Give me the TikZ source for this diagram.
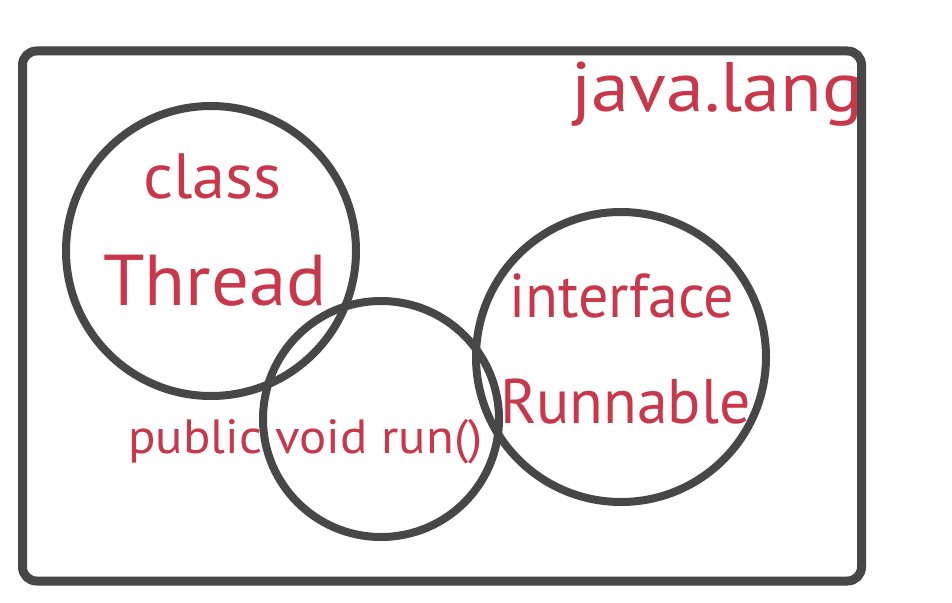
\documentclass[tikz,border=0pt]{standalone}
\usepackage{fontspec}
\setmainfont{PT Sans}
\definecolor{txtred}{HTML}{C8374A}
\definecolor{linegray}{HTML}{474747}
\begin{document}
\begin{tikzpicture}[x=1pt,y=-1pt,
  ring/.style={draw=linegray, line width=8pt, circle, inner sep=0pt},
  lbl/.style={text=txtred, inner sep=0pt, anchor=base west}]
\useasboundingbox (0,0) rectangle (952,602);
\node[draw=linegray, line width=9pt, rounded corners=14pt, minimum width=839pt, minimum height=530pt, inner sep=0pt] (pkg) at (442,316) {};
\node[ring, minimum size=290pt] (thread) at (211,251) {};
\node[ring, minimum size=236pt] (run) at (381,419) {};
\node[ring, minimum size=290pt] (runnable) at (621,357) {};
\node[lbl, font=\fontsize{70}{70}\selectfont, xscale=1.09] (pkgname) at (571,111) {java.lang};
\node[lbl, font=\fontsize{64}{64}\selectfont, xscale=1.04] (cls) at (143,198) {class};
\node[lbl, font=\fontsize{72}{72}\selectfont, xscale=1.04] (thr) at (103,305) {Thread};
\node[lbl, font=\fontsize{62}{62}\selectfont, xscale=0.97] (ifc) at (509,317) {interface};
\node[lbl, font=\fontsize{63}{63}\selectfont, xscale=0.98] (rnb) at (500,423) {Runnable};
\node[lbl, font=\fontsize{48}{48}\selectfont, xscale=1.06] (meth) at (128,453) {public void run()};
\end{tikzpicture}
\end{document}
